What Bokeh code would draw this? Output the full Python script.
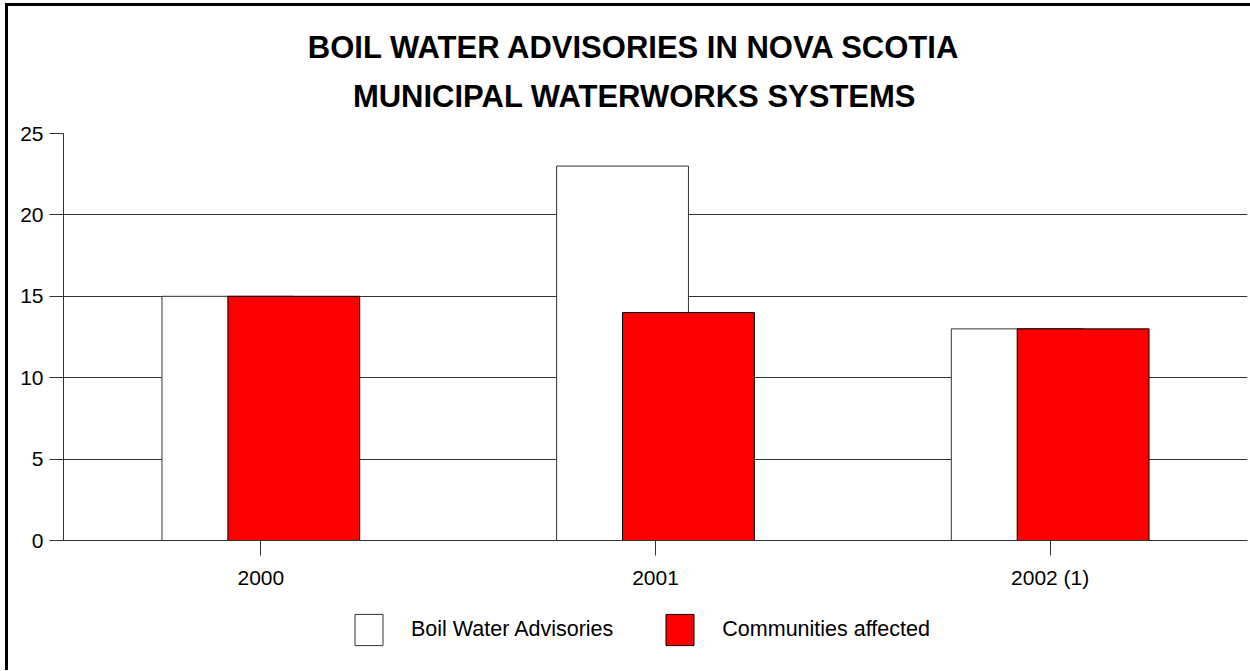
from bokeh.plotting import figure
from bokeh.layouts import column
from bokeh.models import (FactorRange, Range1d, FixedTicker, Legend, LegendItem,
                          Label, ColumnDataSource)
from bokeh.transform import dodge
from bokeh.embed import file_html
from bokeh.resources import INLINE

# ---- data ----
categories = ["2000", "2001", "2002 (1)"]
boil_water_advisories = [15, 23, 13]
communities_affected = [15, 14, 13]
y_ticks = [0, 5, 10, 15, 20, 25]
title_line1 = "BOIL WATER ADVISORIES IN NOVA SCOTIA"
title_line2 = "MUNICIPAL WATERWORKS SYSTEMS"
series_names = ["Boil Water Advisories", "Communities affected"]

FONT = "Liberation Sans"
ADV_STYLE = dict(fill_color="white", line_color="#333333", line_width=1)
COM_STYLE = dict(fill_color="#ff0000", line_color="black", line_width=1)
W, ML, MR = 1242, 55, 3
FRAME_W = W - ML - MR

# ---- header with the two title lines ----
HEAD_H = 112
head = figure(width=W, height=HEAD_H, output_backend="svg", toolbar_location=None,
              x_range=Range1d(0, FRAME_W), y_range=Range1d(0, HEAD_H),
              x_axis_location=None, y_axis_location=None, title=None,
              min_border_left=ML, min_border_right=MR, min_border_top=0,
              min_border_bottom=0)
head.outline_line_color = None
head.grid.visible = False
for txt, yy in ((title_line1, 71), (title_line2, 22)):
    head.add_layout(Label(x=571, y=yy, text=txt, text_align="center",
                          text_baseline="middle", text_font=FONT,
                          text_font_style="bold", text_font_size="31px",
                          text_color="black"))

# ---- main chart ----
src = ColumnDataSource(dict(cat=categories, adv=boil_water_advisories,
                            com=communities_affected))

p = figure(x_range=FactorRange(factors=categories, range_padding=0),
           y_range=Range1d(0, 25),
           width=W, height=488, output_backend="svg", toolbar_location=None,
           min_border_left=ML, min_border_right=MR, min_border_top=15,
           min_border_bottom=66, title=None)
p.outline_line_color = None
p.background_fill_color = "white"
p.border_fill_color = "white"

p.vbar(x=dodge("cat", -0.0835, range=p.x_range), top="adv", width=0.334,
       source=src, **ADV_STYLE)
p.vbar(x=dodge("cat", 0.0835, range=p.x_range), top="com", width=0.334,
       source=src, **COM_STYLE)

p.yaxis.ticker = FixedTicker(ticks=y_ticks)
p.yaxis.major_tick_out = 14
p.yaxis.major_tick_in = 0
p.yaxis.minor_tick_out = 0
p.yaxis.minor_tick_in = 0
p.yaxis.axis_line_color = "#333333"
p.yaxis.major_tick_line_color = "#333333"
p.yaxis.major_label_standoff = 6
p.yaxis.major_label_text_font = FONT
p.yaxis.major_label_text_font_size = "21px"
p.yaxis.major_label_text_color = "black"

p.xaxis.major_tick_out = 15
p.xaxis.major_tick_in = 0
p.xaxis.axis_line_color = "#333333"
p.xaxis.major_tick_line_color = "#333333"
p.xaxis.major_label_standoff = 10
p.xaxis.major_label_text_font = FONT
p.xaxis.major_label_text_font_size = "21px"
p.xaxis.major_label_text_color = "black"

p.xgrid.grid_line_color = None
p.ygrid.ticker = FixedTicker(ticks=y_ticks)
p.ygrid.grid_line_color = "#333333"
p.ygrid.grid_line_width = 1

# ---- legend strip ----
leg = figure(width=W, height=64, output_backend="svg", toolbar_location=None,
             x_range=Range1d(0, 1), y_range=Range1d(0, 1),
             x_axis_location=None, y_axis_location=None, title=None,
             min_border_left=ML, min_border_right=MR, min_border_top=0,
             min_border_bottom=0)
leg.outline_line_color = None
leg.grid.visible = False
leg.border_fill_color = "white"
# swatch renderers kept outside the visible range; only the legend shows them
dummy = ColumnDataSource(dict(x=[-5], top=[-5]))
lr1 = leg.vbar(x="x", top="top", width=1, source=dummy, **ADV_STYLE)
lr2 = leg.vbar(x="x", top="top", width=1, source=dummy, **COM_STYLE)

legend = Legend(items=[LegendItem(label=series_names[0], renderers=[lr1]),
                       LegendItem(label=series_names[1], renderers=[lr2])],
                orientation="horizontal", location=(288, 21),
                glyph_width=35, glyph_height=39, label_standoff=25, spacing=49,
                label_text_font=FONT, label_text_font_size="21.5px",
                label_text_color="black", border_line_color=None,
                background_fill_alpha=0, padding=0, margin=0)
leg.add_layout(legend, "center")

page = column(head, p, leg, spacing=0)
page.styles = {"border-top": "3px solid black", "border-left": "3px solid black",
               "margin-left": "5px", "margin-top": "3px"}

open("out.html", "w").write(file_html(page, INLINE))
